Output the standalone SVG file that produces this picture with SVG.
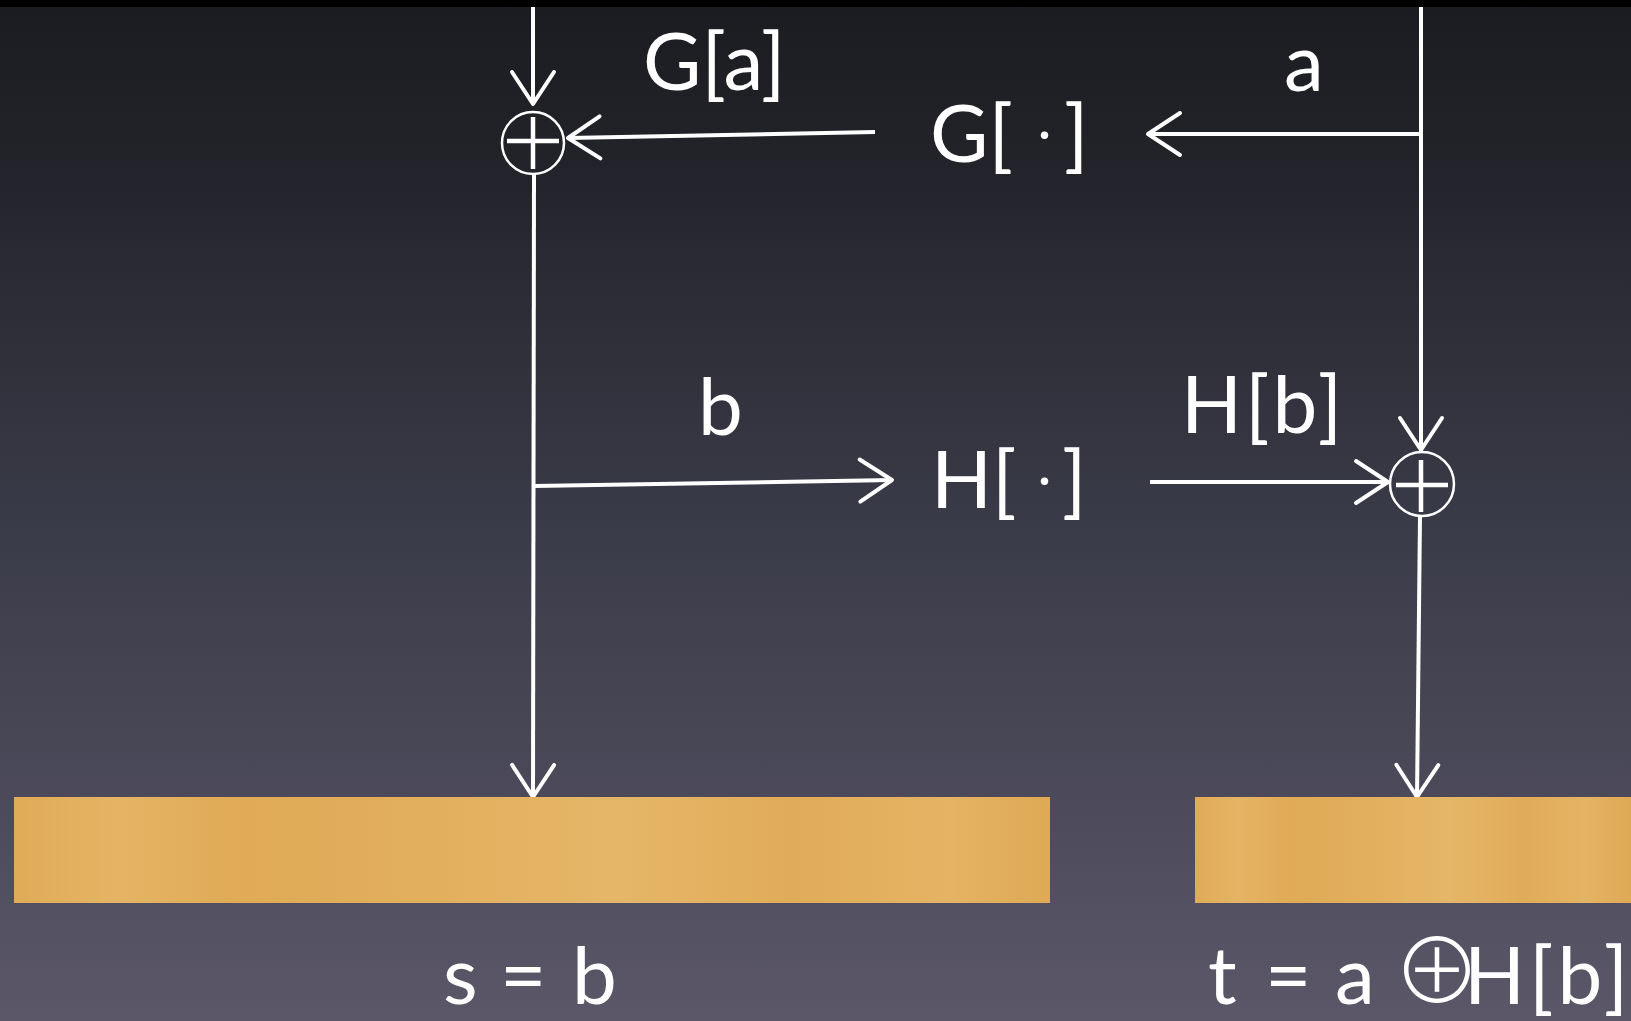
<svg xmlns="http://www.w3.org/2000/svg" width="1631" height="1021" viewBox="0 0 1631 1021">
<defs>
<linearGradient id="bg" x1="0" y1="0" x2="0" y2="1">
<stop offset="0" stop-color="#1b1c21"/>
<stop offset="0.15" stop-color="#222329"/>
<stop offset="0.5" stop-color="#393a47"/>
<stop offset="1" stop-color="#5b5769"/>
</linearGradient>
<linearGradient id="wood" x1="0" y1="0" x2="1" y2="0">
<stop offset="0" stop-color="#e0ab57"/>
<stop offset="0.1" stop-color="#e4b464"/>
<stop offset="0.22" stop-color="#e0aa56"/>
<stop offset="0.4" stop-color="#e2af5d"/>
<stop offset="0.58" stop-color="#e5b668"/>
<stop offset="0.75" stop-color="#e1ac59"/>
<stop offset="0.9" stop-color="#e4b363"/>
<stop offset="1" stop-color="#dfa955"/>
</linearGradient>
<marker id="arr" markerUnits="userSpaceOnUse" markerWidth="60" markerHeight="60" viewBox="-45 -30 60 60" refX="0" refY="0" orient="auto" overflow="visible">
<path d="M-32,-21 L0,0 L-32,21" fill="none" stroke="#ffffff" stroke-width="4" stroke-linecap="round" stroke-linejoin="round"/>
</marker>
</defs>
<style>
.t{font-family:Lato,"Open Sans","Liberation Sans",sans-serif;font-size:80px;fill:#ffffff}
.op{font-family:"Noto Sans CJK JP","DejaVu Sans",sans-serif;font-size:89px;font-weight:300}
.ls{letter-spacing:3px}
.c{fill:none;stroke:#ffffff;stroke-width:4;stroke-linecap:butt}
.ca{fill:none;stroke:#ffffff;stroke-width:4;marker-end:url(#arr)}
.ring{fill:none;stroke:#ffffff;stroke-width:2.5}
.plus{stroke:#ffffff;stroke-width:4.5}
.reg{fill:url(#wood)}
</style>
<rect x="0" y="0" width="1631" height="1021" fill="url(#bg)"/>
<rect x="0" y="0" width="1631" height="7" fill="#000000"/>

<g id="connectors">
<line class="ca" x1="533" y1="7" x2="533" y2="104"/>
<line class="ca" x1="875" y1="132" x2="568" y2="138"/>
<line class="ca" x1="1421" y1="134" x2="1148" y2="134"/>
<line class="c" x1="1421" y1="7" x2="1421" y2="134"/>
<line class="ca" x1="1421" y1="134" x2="1421" y2="450"/>
<line class="ca" x1="534" y1="174" x2="533" y2="797"/>
<line class="ca" x1="534" y1="486" x2="892" y2="480"/>
<line class="ca" x1="1150" y1="482" x2="1388" y2="482"/>
<line class="ca" x1="1420" y1="516" x2="1417" y2="797"/>
</g>

<g id="xor-g">
<circle class="ring" cx="533" cy="143" r="31"/>
<line class="plus" x1="507" y1="141" x2="559" y2="141"/>
<line class="plus" x1="533" y1="117" x2="533" y2="169"/>
</g>

<g id="xor-h">
<circle class="ring" cx="1422" cy="484" r="32"/>
<line class="plus" x1="1396" y1="485" x2="1448" y2="485"/>
<line class="plus" x1="1421" y1="460" x2="1421" y2="512"/>
</g>

<g id="node-G">
<text class="t" y="162"><tspan x="930">G[</tspan><tspan x="1038" y="150" style="font-size:50px">·</tspan><tspan x="1064" y="162">]</tspan></text>
</g>

<g id="node-H">
<text class="t" y="508"><tspan x="931">H[</tspan><tspan x="1038" y="496" style="font-size:50px">·</tspan><tspan x="1062" y="508">]</tspan></text>
</g>

<g id="register-s">
<rect class="reg" x="14" y="797" width="1036" height="106"/>
</g>

<g id="register-t">
<rect class="reg" x="1195" y="797" width="436" height="106"/>
</g>

<g id="labels">
<text class="t" x="643" y="90">G[a]</text>
<text class="t" x="1284" y="91">a</text>
<text class="t" x="698" y="435">b</text>
<text class="t ls" x="1181" y="433">H[b]</text>
<text class="t" y="1004"><tspan x="443">s</tspan><tspan x="500">=</tspan><tspan x="572">b</tspan></text>
<text class="t" y="1004"><tspan x="1208">t</tspan><tspan x="1265">=</tspan><tspan x="1335">a</tspan><tspan class="op" x="1437" y="1003" text-anchor="middle">⊕</tspan><tspan x="1464" y="1004" style="letter-spacing:4px">H[b]</tspan></text>
</g>
</svg>
